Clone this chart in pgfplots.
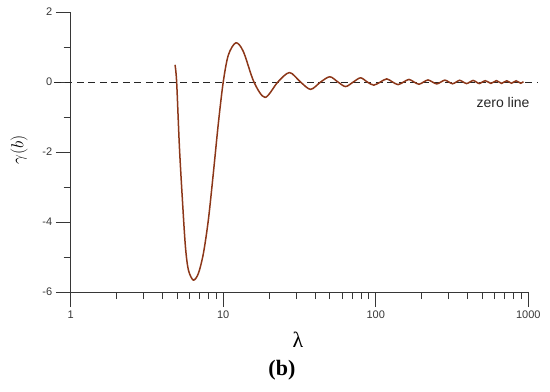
\documentclass[border=0pt]{standalone}
\usepackage{fontspec}
\setmainfont{Liberation Sans}
\newfontfamily\seriffont{Liberation Serif}
\usepackage{pgfplots}
\pgfplotsset{compat=1.18}
\definecolor{curve}{RGB}{140,55,25}
\definecolor{axisgray}{RGB}{55,55,55}

\begin{document}
\begin{tikzpicture}
\begin{axis}[
    scale only axis,
    width=457.6pt, height=280pt,
    xmode=log,
    xmin=1, xmax=1000,
    ymin=-6, ymax=2,
    axis x line*=bottom,
    axis y line*=left,
    axis line style={axisgray, line width=0.8pt, -},
    tick align=outside,
    major tick length=15pt,
    minor tick length=7pt,
    tick style={axisgray, line width=0.8pt},
    xtick={1,10,100,1000},
    xticklabels={1,10,100,1000},
    minor xtick={2,3,...,9,20,30,...,90,200,300,...,900},
    ytick={-6,-4,-2,0,2},
    yticklabels={-6,-4,-2,0,2},
    minor ytick={-5,-3,-1,1},
    tick label style={font=\fontsize{11}{13}\selectfont, text=axisgray},
    clip=false,
]
    % zero line
    \addplot[black!85, line width=0.8pt, dash pattern=on 7pt off 4.5pt] coordinates {
        (0.777,0) (1142,0)
    };
    % gamma(b)
    \addplot[curve, line width=1.5pt, smooth] coordinates {
        (4.83,0.49) (4.95,0) (5.16,-1.85) (5.40,-3.37) (5.65,-4.70) (5.91,-5.37)
        (6.37,-5.66) (6.87,-5.47) (7.41,-4.9) (7.99,-3.94) (8.61,-2.61) (9.29,-1.18)
        (10.0,0) (10.8,0.77) (12.1,1.12) (13.55,0.87) (15.9,0) (18.8,-0.44)
        (22.8,0) (27.2,0.27) (32.1,0) (37.4,-0.21) (43.5,0) (50,0.15)
        (56.5,0) (63.4,-0.13) (71.2,0) (79.5,0.12) (88.0,0) (97,-0.09)
        (107.2,0) (118,0.09) (128.8,0) (140,-0.075) (152.2,0) (165,0.075)
        (178.2,0) (192,-0.065) (205.8,0) (220,0.06) (235.2,0) (251,-0.055)
        (267.3,0) (284,0.055) (301.2,0) (319,-0.05) (336.8,0) (355,0.05)
        (374.2,0) (394,-0.045) (414.2,0) (435,0.045) (455.8,0) (477,-0.045)
        (499.2,0) (522,0.04) (545.2,0) (569,-0.04) (593.3,0) (618,0.04)
        (642.8,0) (668,-0.04) (694.3,0) (721,0.035) (748.2,0) (776,-0.035)
        (803.7,0) (832,0.035) (861.3,0) (891,-0.035) (930,0.01)
    };
    \node[rotate=90, font=\fontsize{17}{20}\selectfont] at (rel axis cs:-0.1130,0.507) {$\gamma(b)$};
    \node[font=\seriffont\fontsize{22}{26}\selectfont] at (rel axis cs:0.4967,-0.1714) {λ};
    \node[font=\seriffont\bfseries\fontsize{22}{26}\selectfont] at (rel axis cs:0.4615,-0.2786) {(b)};
    \node[font=\fontsize{14}{17}\selectfont, text=black!85] at (rel axis cs:0.9447,0.6786) {zero line};
    \path (rel axis cs:-0.1545,-0.3536) rectangle (rel axis cs:1.0474,1.0429);
\end{axis}
\end{tikzpicture}
\end{document}
